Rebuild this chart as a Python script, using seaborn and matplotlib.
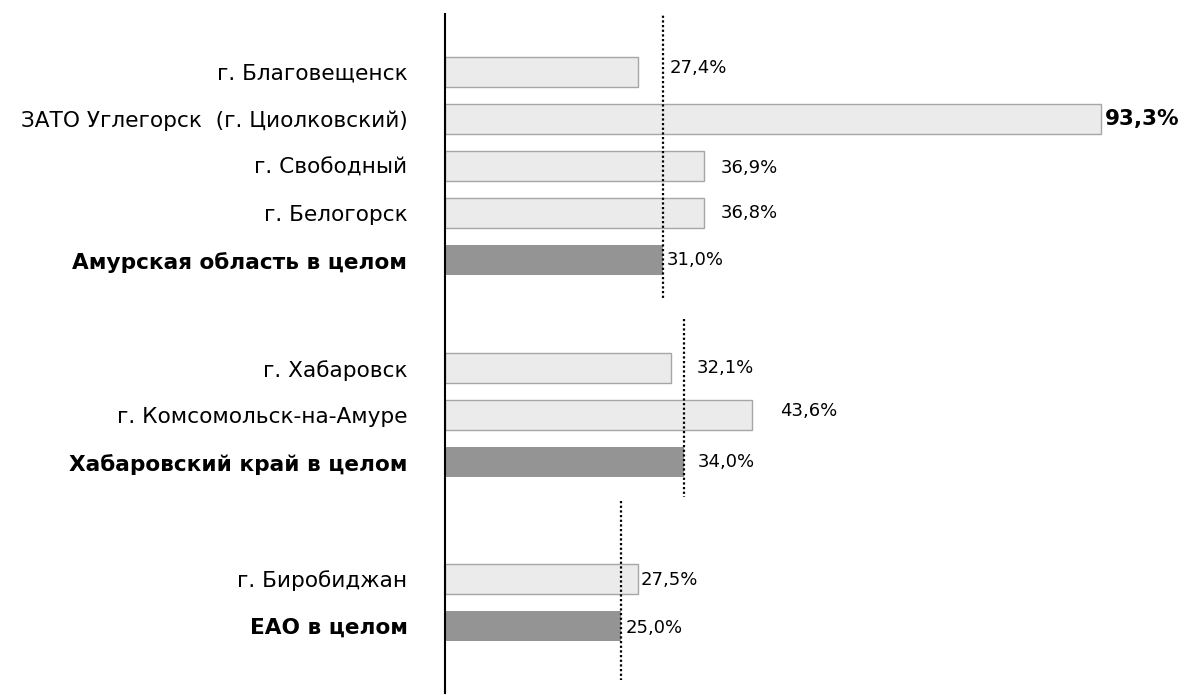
import pandas as pd
import matplotlib.pyplot as plt
import seaborn as sns

# Data
names = ["г. Благовещенск", "ЗАТО Углегорск  (г. Циолковский)", "г. Свободный", "г. Белогорск",
         "Амурская область в целом",
         "г. Хабаровск", "г. Комсомольск-на-Амуре", "Хабаровский край в целом",
         "г. Биробиджан", "ЕАО в целом"]
values = [27.4, 93.3, 36.9, 36.8, 31.0, 32.1, 43.6, 34.0, 27.5, 25.0]
kinds = ["city", "city", "city", "city", "total", "city", "city", "total", "city", "total"]
groups = [0, 0, 0, 0, 0, 1, 1, 1, 2, 2]
value_labels = ["27,4%", "93,3%", "36,9%", "36,8%", "31,0%", "32,1%", "43,6%", "34,0%", "27,5%", "25,0%"]

# Layout
group_gap = [0.0, 2.3, 2.48]          # extra space before each group (rows)
line_span = [(-1.3, 0.8), (-1.05, 0.75), (-1.65, 1.15)]
label_dx = [32, 4, 16, 17, 4, 26, 29, 14, 2, 5]   # px
label_dy = [4, 0, -2, 0, 0, 0, 4, 0, -1, -2]      # px

pos = []
offset = 0.0
prev = None
for i, g in enumerate(groups):
    if prev is not None and g != prev:
        offset += group_gap[g] - 1
    pos.append(i + offset)
    prev = g

df = pd.DataFrame({"name": names, "value": values, "kind": kinds, "pos": pos})

sns.set_style("white")
plt.rcParams["font.family"] = ["DejaVu Sans"]
plt.rcParams["text.color"] = "black"

fig = plt.figure(figsize=(11.88, 6.95), dpi=100)
ax = fig.add_axes([445 / 1188, 2 / 695, 1 - 445 / 1188, 679 / 695])

sns.barplot(data=df, x="value", y="pos", hue="kind", hue_order=["city", "total"],
            palette={"city": "#ebebeb", "total": "#949494"}, orient="h",
            native_scale=True, dodge=False, width=0.634, legend=False, ax=ax)

for bar in ax.containers[0]:
    bar.set_edgecolor("#a6a6a6")
    bar.set_linewidth(1.0)
for bar in ax.containers[1]:
    bar.set_edgecolor("none")

px_per_unit = 7.03
ax.set_xlim(0, (1188 - 445) / px_per_unit)
ax.set_ylim(pos[0] + 13.21, pos[0] - 1.234)

# dotted average lines per region
for g in range(3):
    idx = [i for i, gg in enumerate(groups) if gg == g]
    tot = [i for i in idx if kinds[i] == "total"][0]
    ax.plot([values[tot], values[tot]],
            [pos[idx[0]] + line_span[g][0], pos[idx[-1]] + line_span[g][1]],
            color="black", lw=1.6, linestyle=(0, (1, 1.1)), zorder=5)

# value labels
for i, v in enumerate(values):
    bold = i == 1
    ax.annotate(value_labels[i], (v, pos[i]),
                xytext=(label_dx[i] * 0.72, label_dy[i] * 0.72), textcoords="offset points",
                ha="left", va="center", fontsize=15.5 if bold else 13,
                fontweight="heavy" if bold else "normal", color="black")

ax.set_yticks(pos)
ax.set_yticklabels(names)
for lab, k in zip(ax.get_yticklabels(), kinds):
    lab.set_fontsize(15.6)
    lab.set_color("black")
    lab.set_fontweight("bold" if k == "total" else "normal")
ax.tick_params(axis="y", length=0, pad=27)
ax.set_xticks([])
ax.set_xlabel("")
ax.set_ylabel("")

for s in ["top", "right", "bottom"]:
    ax.spines[s].set_visible(False)
ax.spines["left"].set_color("black")
ax.spines["left"].set_linewidth(1.5)

fig.savefig("out.png", dpi=100)
